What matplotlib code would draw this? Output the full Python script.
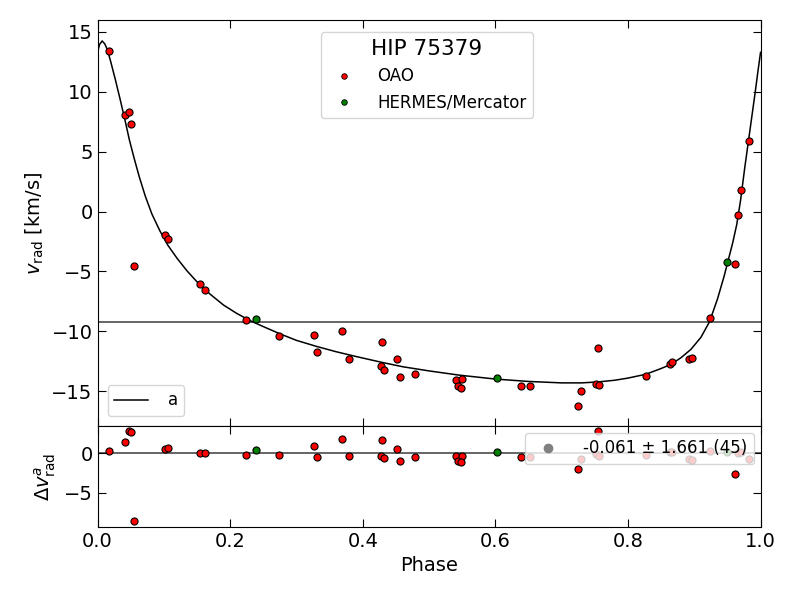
import matplotlib
matplotlib.use("Agg")
import matplotlib.pyplot as plt
from matplotlib.lines import Line2D

# ---- data ----
oao_phase = [0.017, 0.042, 0.048, 0.051, 0.055, 0.102, 0.106, 0.154, 0.162, 0.224,
             0.273, 0.327, 0.331, 0.368, 0.379, 0.429, 0.428, 0.432, 0.451, 0.456,
             0.479, 0.541, 0.549, 0.543, 0.548, 0.638, 0.652, 0.725, 0.729, 0.755,
             0.752, 0.756, 0.827, 0.863, 0.867, 0.892, 0.897, 0.923, 0.962, 0.966,
             0.971, 0.982]
oao_v = [13.45, 8.10, 8.33, 7.33, -4.58, -1.94, -2.30, -6.05, -6.55, -9.08,
         -10.42, -10.30, -11.69, -10.00, -12.33, -10.92, -12.92, -13.25, -12.30, -13.83,
         -13.58, -14.05, -13.97, -14.60, -14.72, -14.60, -14.60, -16.20, -15.00, -11.40,
         -14.36, -14.50, -13.75, -12.72, -12.53, -12.30, -12.22, -8.89, -4.39, -0.28,
         1.81, 5.89]
oao_res = [0.25, 1.43, 2.86, 2.73, -8.57, 0.50, 0.63, 0.08, 0.00, -0.17,
           -0.21, 0.92, -0.42, 1.85, -0.30, 1.72, -0.30, -0.63, 0.50, -0.93,
           -0.42, -0.34, -0.30, -1.00, -1.14, -0.47, -0.42, -1.95, -0.72, 2.86,
           -0.13, -0.34, -0.17, 0.13, 0.17, -0.68, -0.80, 0.33, -2.62, 0.00,
           0.10, -0.76]

her_phase = [0.239, 0.603, 0.950]
her_v = [-8.94, -13.86, -4.19]
her_res = [0.38, 0.13, 0.17]

curve_phase = [0.000, 0.003, 0.007, 0.011, 0.015, 0.020, 0.027, 0.034, 0.042, 0.048,
               0.055, 0.063, 0.072, 0.082, 0.094, 0.106, 0.120, 0.135, 0.154, 0.170,
               0.190, 0.210, 0.230, 0.250, 0.275, 0.300, 0.330, 0.360, 0.390, 0.430,
               0.460, 0.500, 0.545, 0.600, 0.650, 0.700, 0.730, 0.755, 0.780, 0.800,
               0.827, 0.850, 0.865, 0.880, 0.895, 0.910, 0.923, 0.935, 0.945, 0.952,
               0.958, 0.964, 0.970, 0.976, 0.982, 0.988, 0.992, 0.996, 1.000]
curve_v = [13.3, 13.95, 14.25, 14.0, 13.5, 12.5, 11.0, 9.4, 7.5, 6.0,
           4.5, 2.9, 1.3, -0.2, -1.6, -2.8, -3.9, -4.95, -6.1, -6.9,
           -7.8, -8.5, -9.1, -9.6, -10.2, -10.75, -11.25, -11.7, -12.1, -12.6,
           -12.95, -13.3, -13.65, -13.98, -14.18, -14.3, -14.3, -14.22, -14.08, -13.9,
           -13.58, -13.1, -12.75, -12.2, -11.5, -10.5, -9.2, -7.3, -5.4, -3.9,
           -2.6, -1.1, 1.0, 3.6, 6.0, 8.4, 10.0, 11.7, 13.3]

gamma = -9.22
res_label = "-0.061 ± 1.661 (45)"
title = "HIP 75379"

# ---- figure ----
fig = plt.figure(figsize=(8, 6), dpi=100)
ax = fig.add_axes([0.1219, 0.29, 0.8288, 0.6767])
axr = fig.add_axes([0.1219, 0.1217, 0.8288, 0.1683], sharex=ax)

line, = ax.plot(curve_phase, curve_v, color="black", lw=1.1, label="a", zorder=3)
ax.axhline(gamma, color="0.35", lw=1.3, zorder=1)
ax.scatter(oao_phase, oao_v, s=26, c="red", edgecolors="black", linewidths=0.8,
           zorder=4, label="OAO")
ax.scatter(her_phase, her_v, s=26, c="green", edgecolors="black", linewidths=0.8,
           zorder=4, label="HERMES/Mercator")

h1 = Line2D([], [], ls="none", marker="o", ms=4, mfc="red", mec="black", mew=0.6)
h2 = Line2D([], [], ls="none", marker="o", ms=4, mfc="green", mec="black", mew=0.6)
leg1 = ax.legend([h1, h2], ["OAO", "HERMES/Mercator"], loc="upper center",
                 bbox_to_anchor=(0.497, 0.99), title=title, fontsize=12,
                 title_fontsize=15.5, handletextpad=1.0)
ax.add_artist(leg1)
ax.legend([line], ["a"], loc="lower left", fontsize=12, borderaxespad=0.6,
          handletextpad=1.2)

ax.set_xlim(0, 1)
ax.set_ylim(-17.9, 16.0)
ax.set_yticks([-15, -10, -5, 0, 5, 10, 15])
ax.set_ylabel(r"$v_{\rm rad}$ [km/s]", fontsize=14)
ax.tick_params(axis="both", direction="in", top=True, right=True, labelsize=14,
               length=6, labelbottom=False)

axr.axhline(0, color="0.35", lw=1.3, zorder=1)
axr.scatter(oao_phase, oao_res, s=26, c="red", edgecolors="black", linewidths=0.8, zorder=2)
axr.scatter(her_phase, her_res, s=26, c="green", edgecolors="black", linewidths=0.8, zorder=2)
hg = Line2D([], [], ls="none", marker="o", ms=6, mfc="gray", mec="gray")
lg = axr.legend([hg], [res_label], loc="upper right", fontsize=12, borderaxespad=0.4,
                handletextpad=1.1)
lg.set_zorder(5)
axr.set_ylim(-9.33, 3.45)
axr.set_yticks([-5, 0])
axr.set_xticks([0.0, 0.2, 0.4, 0.6, 0.8, 1.0])
axr.set_xlabel("Phase", fontsize=14)
axr.set_ylabel(r"$\Delta v^{a}_{\rm rad}$", fontsize=14)
axr.tick_params(axis="both", direction="in", top=True, right=True, labelsize=14, length=6)
axr.set_xlim(0, 1)

fig.savefig("out.png", dpi=100)
